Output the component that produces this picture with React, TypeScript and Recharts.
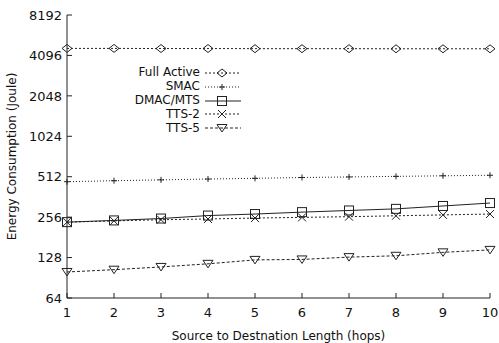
import { LineChart, Line, XAxis, YAxis, Legend } from 'recharts';

const HOPS = [1, 2, 3, 4, 5, 6, 7, 8, 9, 10];
const FULL_ACTIVE = [4620, 4620, 4610, 4610, 4600, 4600, 4600, 4590, 4590, 4590];
const SMAC = [470, 478, 485, 492, 498, 505, 510, 515, 520, 525];
const DMAC_MTS = [235, 242, 250, 263, 270, 279, 287, 295, 310, 326];
const TTS_2 = [235, 240, 245, 248, 252, 255, 258, 262, 266, 270];
const TTS_5 = [100, 104, 109, 115, 123, 124, 129, 132, 140, 146];
const Y_TICKS = [64, 128, 256, 512, 1024, 2048, 4096, 8192];

const FONT = '"DejaVu Sans", sans-serif';
const INK = '#222';

type Shape = 'diamond' | 'plus' | 'square' | 'cross' | 'triangle';

const SERIES: { key: string; name: string; shape: Shape; dash?: string }[] = [
  { key: 'fullActive', name: 'Full Active', shape: 'diamond', dash: '2 2' },
  { key: 'smac', name: 'SMAC', shape: 'plus', dash: '1 2' },
  { key: 'dmac', name: 'DMAC/MTS', shape: 'square' },
  { key: 'tts2', name: 'TTS-2', shape: 'cross', dash: '2 2' },
  { key: 'tts5', name: 'TTS-5', shape: 'triangle', dash: '3 2' },
];

const data = HOPS.map((h, i) => ({
  hops: h,
  fullActive: FULL_ACTIVE[i],
  smac: SMAC[i],
  dmac: DMAC_MTS[i],
  tts2: TTS_2[i],
  tts5: TTS_5[i],
}));

function Marker({ shape, cx, cy }: { shape: Shape; cx: number; cy: number }) {
  const s = { fill: 'none', stroke: INK, strokeWidth: 1 };
  switch (shape) {
    case 'diamond':
      return <path d={`M${cx - 5},${cy} L${cx},${cy - 4} L${cx + 5},${cy} L${cx},${cy + 4} Z`} {...s} />;
    case 'plus':
      return <path d={`M${cx - 3},${cy} H${cx + 3} M${cx},${cy - 3} V${cy + 3}`} {...s} />;
    case 'square':
      return <rect x={cx - 4.5} y={cy - 4.5} width={9} height={9} {...s} />;
    case 'cross':
      return <path d={`M${cx - 4},${cy - 4} L${cx + 4},${cy + 4} M${cx - 4},${cy + 4} L${cx + 4},${cy - 4}`} {...s} />;
    case 'triangle':
      return <path d={`M${cx - 5},${cy - 3.5} H${cx + 5} L${cx},${cy + 4} Z`} {...s} />;
  }
}

function renderLegend() {
  return (
    <div style={{ fontFamily: FONT, fontSize: 12, color: '#111' }}>
      {SERIES.map((s) => (
        <div key={s.key} style={{ display: 'flex', alignItems: 'center', height: 13.8 }}>
          <span style={{ width: 100, textAlign: 'right', lineHeight: '13px' }}>{s.name}</span>
          <svg width={42} height={14} style={{ marginLeft: 4 }}>
            <line x1={1} y1={7} x2={37} y2={7} stroke={INK} strokeDasharray={s.dash} />
            <Marker shape={s.shape} cx={18} cy={7} />
          </svg>
        </div>
      ))}
    </div>
  );
}

const BottomTick = (p: any) => (
  <g>
    <line x1={p.x} y1={p.y - 10} x2={p.x} y2={p.y - 15} stroke={INK} />
    <text x={p.x} y={p.y} dy="0.71em" textAnchor="middle" fontFamily={FONT} fontSize={13} fill="#111">
      {p.payload.value}
    </text>
  </g>
);

const LeftTick = (p: any) => (
  <g>
    <line x1={p.x + 4} y1={p.y} x2={p.x + 9} y2={p.y} stroke={INK} />
    <text x={p.x - 1} y={p.y} dy="0.36em" textAnchor="end" fontFamily={FONT} fontSize={13} fill="#111">
      {p.payload.value}
    </text>
  </g>
);

const TopTick = (p: any) => <line x1={p.x} y1={p.y} x2={p.x} y2={p.y + 5} stroke={INK} />;
const RightTick = (p: any) => <line x1={p.x} y1={p.y} x2={p.x - 5} y2={p.y} stroke={INK} />;

// rotated y axis title, centred on the plot height
const YTitle = (p: any) => {
  const vb = p.viewBox || { x: 0, y: 15, width: 67, height: 283 };
  const cx = vb.x + 12;
  const cy = vb.y + vb.height / 2;
  return (
    <text
      x={cx}
      y={cy}
      transform={`rotate(-90 ${cx} ${cy})`}
      textAnchor="middle"
      dominantBaseline="central"
      fontFamily={FONT}
      fontSize={12}
      fill="#111"
    >
      Energy Consumption (Joule)
    </text>
  );
};

export default function App() {
  return (
    <div style={{ position: 'absolute', left: 0, top: 0, background: '#fff' }}>
      <LineChart width={499} height={343} data={data} margin={{ top: 15, right: 9, bottom: 0, left: 0 }}>
        <XAxis
          xAxisId="main"
          dataKey="hops"
          type="number"
          domain={[1, 10]}
          ticks={HOPS}
          height={45}
          tickSize={0}
          tickMargin={10}
          tick={BottomTick}
          axisLine={{ stroke: INK }}
          label={{ value: 'Source to Destnation Length (hops)', position: 'insideBottom', offset: 3, fontFamily: FONT, fontSize: 12, fill: '#111' }}
        />
        <XAxis
          xAxisId="top"
          orientation="top"
          dataKey="hops"
          type="number"
          domain={[1, 10]}
          ticks={HOPS}
          height={0}
          tickSize={0}
          tickMargin={0}
          tick={TopTick}
          axisLine={{ stroke: INK }}
        />
        <YAxis
          yAxisId="main"
          scale="log"
          domain={[64, 8192]}
          ticks={Y_TICKS}
          allowDataOverflow
          width={67}
          tickSize={0}
          tickMargin={4}
          tick={LeftTick}
          axisLine={{ stroke: INK }}
          label={{ content: YTitle }}
        />
        <YAxis
          yAxisId="right"
          orientation="right"
          scale="log"
          domain={[64, 8192]}
          ticks={Y_TICKS}
          allowDataOverflow
          width={0}
          tickSize={0}
          tickMargin={0}
          tick={RightTick}
          axisLine={{ stroke: INK }}
        />
        <Legend
          layout="vertical"
          align="center"
          verticalAlign="middle"
          content={renderLegend}
          wrapperStyle={{ position: 'absolute', left: 100, top: 66, width: 150 }}
        />
        {SERIES.map((s) => (
          <Line
            key={s.key}
            xAxisId="main"
            yAxisId="main"
            dataKey={s.key}
            name={s.name}
            stroke={INK}
            strokeWidth={1}
            strokeDasharray={s.dash}
            isAnimationActive={false}
            dot={(p: any) => <Marker key={`${s.key}-${p.index}`} shape={s.shape} cx={p.cx} cy={p.cy} />}
            activeDot={false}
          />
        ))}
      </LineChart>
    </div>
  );
}
